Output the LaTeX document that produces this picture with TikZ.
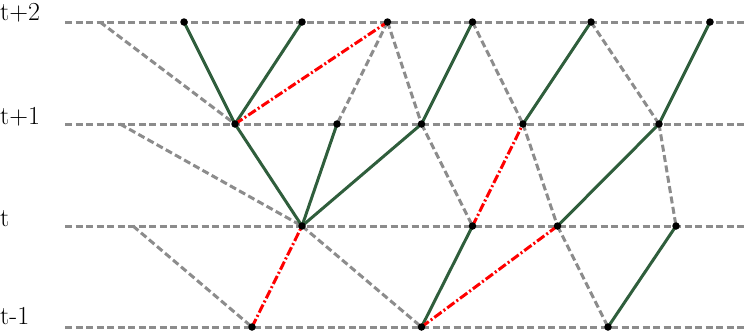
\documentclass[tikz,border=0pt]{standalone}
\usepackage{xcolor}
\usepackage{tikz}
\usetikzlibrary{positioning,backgrounds}
\definecolor{pine}{HTML}{2F5E3C}
\definecolor{ash}{HTML}{8C8C8C}
\definecolor{alarm}{HTML}{FF0000}

\begin{document}
\begin{tikzpicture}[
  x=1pt, y=-1pt,
  dot/.style={circle, fill=black, inner sep=0pt, minimum size=7.5pt},
  lbl/.style={anchor=base west, inner sep=0pt, font=\fontsize{26}{30}\selectfont},
  grid/.style={draw=ash, line width=3pt, dash pattern=on 7pt off 3.5pt},
  tree/.style={draw=pine, line width=3pt},
  link/.style={draw=alarm, line width=3pt, dash pattern=on 9pt off 2.5pt on 2pt off 2.5pt}
]
  \useasboundingbox (0,0) rectangle (746,330);

  % time labels
  \node[lbl] (lt2) at (0,20) {t+2};
  \node[lbl] (lt1) at (0,124) {t+1};
  \node[lbl] (lt0) at (0,226) {t};
  \node[lbl] (ltm) at (0,324) {t-1};

  % row ends
  \coordinate (w2) at (65,22);  \coordinate (e2x) at (746,22);
  \coordinate (w1) at (65,124); \coordinate (e1x) at (746,124);
  \coordinate (w0) at (65,226); \coordinate (e0x) at (746,226);
  \coordinate (wm) at (65,327); \coordinate (emx) at (746,327);
  \coordinate (s2) at (100,22);
  \coordinate (s1) at (120,124);
  \coordinate (s0) at (133,226);

  % states
  \node[dot] (a2) at (184,22) {};
  \node[dot] (b2) at (302,22) {};
  \node[dot] (c2) at (387.5,22) {};
  \node[dot] (d2) at (472.5,22) {};
  \node[dot] (e2) at (591,22) {};
  \node[dot] (f2) at (710,22) {};

  \node[dot] (a1) at (235,124) {};
  \node[dot] (b1) at (337,124) {};
  \node[dot] (c1) at (421.5,124) {};
  \node[dot] (d1) at (523,124) {};
  \node[dot] (e1) at (659,124) {};

  \node[dot] (a0) at (302,226) {};
  \node[dot] (b0) at (472.5,226) {};
  \node[dot] (c0) at (557.5,226) {};
  \node[dot] (d0) at (676,226) {};

  \node[dot] (am) at (252,327) {};
  \node[dot] (bm) at (421.5,327) {};
  \node[dot] (cm) at (608,327) {};

  \begin{scope}[on background layer]
  % rows
  \draw[grid] (w2) -- (e2x);
  \draw[grid] (w1) -- (e1x);
  \draw[grid] (w0) -- (e0x);
  \draw[grid] (wm) -- (emx);

  % pruned links
  \draw[grid] (s2) -- (a1.center);
  \draw[grid] (s1) -- (a0.center);
  \draw[grid] (s0) -- (am.center);
  \draw[grid] (c2.center) -- (b1.center);
  \draw[grid] (c2.center) -- (c1.center);
  \draw[grid] (c1.center) -- (b0.center);
  \draw[grid] (d2.center) -- (d1.center);
  \draw[grid] (d1.center) -- (c0.center);
  \draw[grid] (e2.center) -- (e1.center);
  \draw[grid] (e1.center) -- (d0.center);
  \draw[grid] (a0.center) -- (bm.center);
  \draw[grid] (c0.center) -- (cm.center);

  % kept links
  \draw[tree] (a2.center) -- (a1.center);
  \draw[tree] (b2.center) -- (a1.center);
  \draw[tree] (a1.center) -- (a0.center);
  \draw[tree] (b1.center) -- (a0.center);
  \draw[tree] (c1.center) -- (a0.center);
  \draw[tree] (d2.center) -- (c1.center);
  \draw[tree] (e2.center) -- (d1.center);
  \draw[tree] (f2.center) -- (e1.center);
  \draw[tree] (e1.center) -- (c0.center);
  \draw[tree] (b0.center) -- (bm.center);
  \draw[tree] (d0.center) -- (cm.center);

  % conflicting links
  \draw[link] (a1.center) -- (c2.center);
  \draw[link] (am.center) -- (a0.center);
  \draw[link] (b0.center) -- (d1.center);
  \draw[link] (bm.center) -- (c0.center);
  \end{scope}
\end{tikzpicture}
\end{document}
